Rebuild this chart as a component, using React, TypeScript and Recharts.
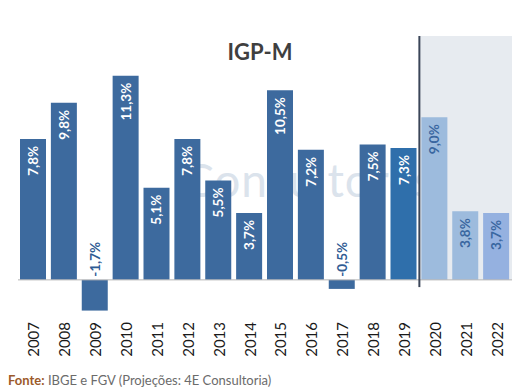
import { BarChart, Bar, XAxis, YAxis, Cell, LabelList, ReferenceArea, ReferenceLine } from "recharts";

const years = ["2007", "2008", "2009", "2010", "2011", "2012", "2013", "2014", "2015", "2016", "2017", "2018", "2019", "2020", "2021", "2022"];
const igpm = [7.8, 9.8, -1.7, 11.3, 5.1, 7.8, 5.5, 3.7, 10.5, 7.2, -0.5, 7.5, 7.3, 9.0, 3.8, 3.7];
const barColors = ["#3d6a9e", "#3d6a9e", "#3d6a9e", "#3d6a9e", "#3d6a9e", "#3d6a9e", "#3d6a9e", "#3d6a9e", "#3d6a9e", "#3d6a9e", "#3d6a9e", "#3d6a9e", "#2f6fab", "#9dbbdd", "#9dbbdd", "#95b1e0"];
const labelColors = ["#fff", "#fff", "#2f5b93", "#fff", "#fff", "#fff", "#fff", "#fff", "#fff", "#fff", "#2f5b93", "#fff", "#fff", "#3a67a0", "#3a67a0", "#3a67a0"];

const data = years.map((year, i) => ({ year, value: igpm[i] }));

const FONT = "Lato, 'Open Sans', sans-serif";

function ValueLabel(props: any) {
  const { x, y, width, height, value, index } = props;
  const top = Math.min(y, y + height);
  const cx = x + width / 2;
  const txt = value.toFixed(1).replace(".", ",") + "%";
  const neg = value < 0;
  const ay = neg ? top - 3 : top + 7;
  return (
    <text
      x={cx}
      y={ay}
      transform={`rotate(-90 ${cx} ${ay})`}
      textAnchor={neg ? "start" : "end"}
      dominantBaseline="central"
      fill={labelColors[index]}
      fontSize={13.5}
      fontWeight={700}
      fontFamily={FONT}
    >
      {txt}
    </text>
  );
}

function YearTick(props: any) {
  const { x, y, payload } = props;
  const ay = y + 6;
  return (
    <text
      x={x}
      y={ay}
      transform={`rotate(-90 ${x} ${ay})`}
      textAnchor="end"
      dominantBaseline="central"
      fill="#1a1a1a"
      fontSize={15}
      fontFamily={FONT}
    >
      {payload.value}
    </text>
  );
}

export default function App() {
  return (
    <div style={{ position: "absolute", left: 0, top: 0, width: 532, height: 391, background: "#fff", fontFamily: FONT }}>
      <div
        style={{
          position: "absolute",
          left: 183,
          top: 152,
          fontSize: 46,
          color: "#dbe3ec",
          letterSpacing: 1,
        }}
      >
        Consultores
      </div>
      <div
        style={{
          position: "absolute",
          left: 0,
          top: 38,
          width: 520,
          textAlign: "center",
          fontSize: 22,
          fontWeight: 700,
          color: "#3f3f3f",
          zIndex: 2,
        }}
      >
        IGP-M
      </div>
      <div style={{ position: "absolute", left: 0, top: 0, zIndex: 1 }}>
        <BarChart width={532} height={391} data={data} margin={{ top: 36, right: 20, left: 18, bottom: 0 }} barSize={26}>
          <ReferenceArea x1="2020" x2="2022" y1={0} y2={13.5} fill="#e7ebf0" fillOpacity={1} stroke="none" />
          <XAxis
            dataKey="year"
            axisLine={false}
            tickLine={false}
            tickSize={0}
            tickMargin={0}
            height={75}
            interval={0}
            tick={<YearTick />}
          />
          <YAxis hide domain={[-2, 13.5]} />
          <ReferenceLine y={0} stroke="#b5b5b5" strokeWidth={1} />
          <Bar dataKey="value" isAnimationActive={false}>
            {data.map((d, i) => (
              <Cell key={d.year} fill={barColors[i]} />
            ))}
            <LabelList dataKey="value" content={<ValueLabel />} />
          </Bar>
          <ReferenceLine
            segment={[
              { x: "2020", y: -0.4 },
              { x: "2020", y: 13.5 },
            ]}
            position="start"
            stroke="#3b4658"
            strokeWidth={2}
          />
        </BarChart>
      </div>
      <div style={{ position: "absolute", left: 8, top: 372, fontSize: 13, color: "#6b6b6b", zIndex: 2 }}>
        <span style={{ color: "#9c5a2a", fontWeight: 700 }}>Fonte:</span> IBGE e FGV (Projeções: 4E Consultoria)
      </div>
    </div>
  );
}
